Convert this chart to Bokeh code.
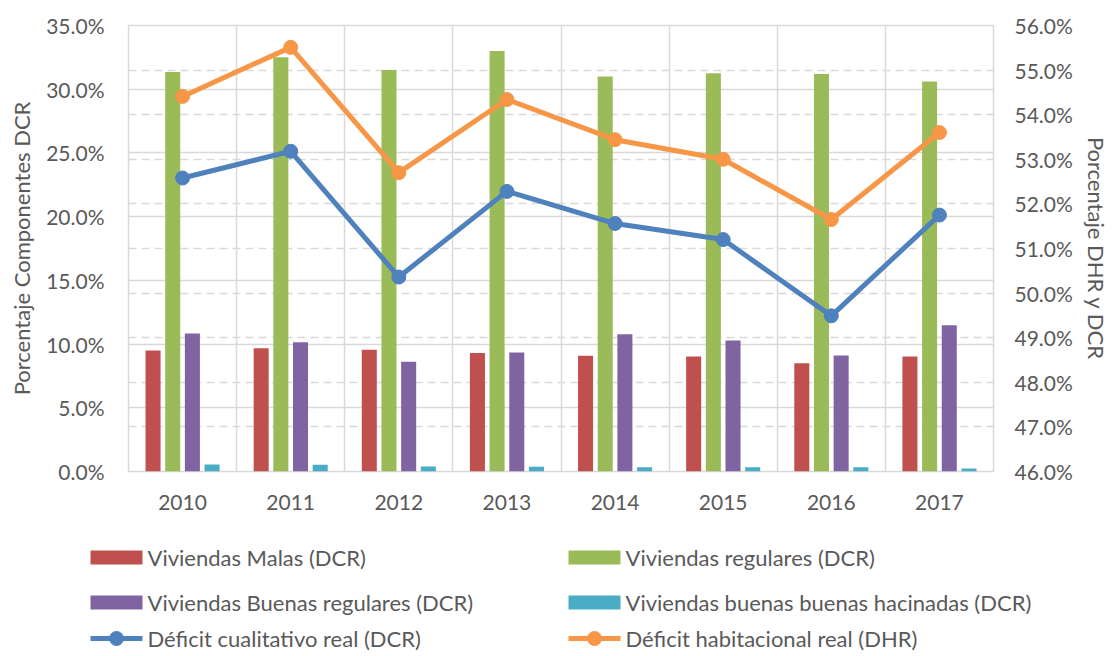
from bokeh.plotting import figure
from bokeh.models import Range1d, LinearAxis, FixedTicker, NumeralTickFormatter, Grid, ColumnDataSource
from bokeh.transform import dodge
from bokeh.layouts import column, row
from bokeh.embed import file_html
from bokeh.resources import INLINE
from bokeh.core.properties import value

# ---------------- data ----------------
years = [2010, 2011, 2012, 2013, 2014, 2015, 2016, 2017]
viviendas_malas = [0.0950, 0.0968, 0.0955, 0.0929, 0.0908, 0.0903, 0.0850, 0.0903]
viviendas_regulares = [0.3135, 0.3250, 0.3150, 0.3300, 0.3100, 0.3125, 0.3120, 0.3060]
viviendas_buenas_regulares = [0.1083, 0.1015, 0.0861, 0.0934, 0.1078, 0.1028, 0.0910, 0.1148]
viviendas_hacinadas = [0.0055, 0.0052, 0.0039, 0.0037, 0.0034, 0.0034, 0.0034, 0.0024]
deficit_cualitativo = [0.5258, 0.5318, 0.5036, 0.5228, 0.5156, 0.5120, 0.4949, 0.5175]
deficit_habitacional = [0.5441, 0.5551, 0.5270, 0.5434, 0.5344, 0.5300, 0.5165, 0.5360]

left_ticks = [0.0, 0.05, 0.10, 0.15, 0.20, 0.25, 0.30, 0.35]
right_ticks = [0.46, 0.47, 0.48, 0.49, 0.50, 0.51, 0.52, 0.53, 0.54, 0.55, 0.56]

bar_labels = ["Viviendas Malas (DCR)", "Viviendas regulares (DCR)",
              "Viviendas Buenas regulares (DCR)", "Viviendas buenas buenas  hacinadas (DCR)"]
line_labels = ["Déficit cualitativo real (DCR)", "Déficit habitacional real (DHR)"]

# ---------------- styles ----------------
FONT = "Lato"
TXT = "#595959"
GRID = "#D9D9D9"
C_RED, C_GREEN, C_PURPLE, C_CYAN = "#C0504D", "#9BBB59", "#8064A2", "#4BACC6"
C_BLUE, C_ORANGE = "#4F81BD", "#F79646"

W = 1112
H_MAIN = 522
H_LEG = 132

src = ColumnDataSource(dict(year=years, malas=viviendas_malas, reg=viviendas_regulares,
                            breg=viviendas_buenas_regulares, hac=viviendas_hacinadas,
                            dcr=deficit_cualitativo, dhr=deficit_habitacional))

p = figure(width=W, height=H_MAIN, x_range=Range1d(2009.5, 2017.5), y_range=Range1d(0, 0.35),
           output_backend="svg", toolbar_location=None,
           min_border_left=128, min_border_right=W - 994, min_border_top=25, min_border_bottom=51)
p.extra_y_ranges = {"right": Range1d(0.46, 0.56)}
p.outline_line_color = GRID
p.outline_line_width = 1.5
p.background_fill_color = "white"
p.border_fill_color = "white"

# grids
p.xgrid.ticker = FixedTicker(ticks=[y - 0.5 for y in years] + [years[-1] + 0.5])
p.ygrid.ticker = FixedTicker(ticks=left_ticks)
for g in (p.xgrid, p.ygrid):
    g.grid_line_color = GRID
    g.grid_line_width = 1.5
dgrid = Grid(dimension=1, ticker=FixedTicker(ticks=right_ticks), y_range_name="right",
             grid_line_color=GRID, grid_line_width=1.5, grid_line_dash="8 5")
p.add_layout(dgrid)

# axes
p.xaxis.ticker = FixedTicker(ticks=years)
p.yaxis.ticker = FixedTicker(ticks=left_ticks)
p.yaxis.formatter = NumeralTickFormatter(format="0.0%")
p.yaxis.axis_label = "Porcentaje Componentes DCR"
p.yaxis.major_label_standoff = 24
p.yaxis.axis_label_standoff = 8
p.xaxis.major_label_standoff = 23

raxis = LinearAxis(y_range_name="right", ticker=FixedTicker(ticks=right_ticks),
                   formatter=NumeralTickFormatter(format="0.0%"),
                   axis_label="Porcentaje DHR y DCR")
raxis.major_label_standoff = 21
raxis.axis_label_standoff = 7
p.add_layout(raxis, "right")

for ax in (p.xaxis[0], p.yaxis[0], raxis):
    ax.axis_line_color = None
    ax.major_tick_line_color = None
    ax.minor_tick_line_color = None
    ax.major_tick_out = 0
    ax.major_tick_in = 0
    ax.major_label_text_font = FONT
    ax.major_label_text_font_size = "21px"
    ax.major_label_text_color = TXT
    ax.axis_label_text_font = FONT
    ax.axis_label_text_font_size = "22px"
    ax.axis_label_text_font_style = "normal"
    ax.axis_label_text_color = TXT

# bars
bw = 0.139
step = 0.182
for col, off, color in (("malas", -1.5 * step, C_RED), ("reg", -0.5 * step, C_GREEN),
                        ("breg", 0.5 * step, C_PURPLE), ("hac", 1.5 * step, C_CYAN)):
    p.vbar(x=dodge("year", off, range=p.x_range), top=col, bottom=0, width=bw, source=src,
           fill_color=color, line_color=None)

# lines (secondary axis)
for col, color in (("dcr", C_BLUE), ("dhr", C_ORANGE)):
    p.line("year", col, source=src, y_range_name="right", line_color=color, line_width=5,
           line_join="round")
    p.scatter("year", col, source=src, y_range_name="right", size=14, fill_color=color,
              line_color=color)

# ---------------- legend strip (pixel coordinates, no axes) ----------------
lg = figure(width=W, height=H_LEG, x_range=Range1d(0, W), y_range=Range1d(H_LEG, 0),
            output_backend="svg", toolbar_location=None, min_border=0,
            min_border_left=0, min_border_right=0, min_border_top=0, min_border_bottom=0,
            x_axis_location=None, y_axis_location=None)
lg.grid.visible = False
lg.outline_line_color = None
lg.background_fill_color = "white"
lg.border_fill_color = "white"

col_x = [90, 568]
row_y = [35, 80, 116]
sw_w = 52
sw_h = 14
bar_colors = [C_RED, C_GREEN, C_PURPLE, C_CYAN]
for i, (lab, color) in enumerate(zip(bar_labels, bar_colors)):
    x0 = col_x[i % 2]
    y0 = row_y[i // 2]
    lg.quad(left=[x0], right=[x0 + sw_w], top=[y0 - sw_h / 2], bottom=[y0 + sw_h / 2],
            fill_color=color, line_color=None)
    lg.text(x=[x0 + sw_w + 5], y=[y0], text=[lab], text_font=value(FONT), text_font_size="22px",
            text_color=TXT, text_baseline="middle", text_align="left")
for i, (lab, color) in enumerate(zip(line_labels, [C_BLUE, C_ORANGE])):
    x0 = col_x[i]
    y0 = row_y[2]
    lg.line(x=[x0, x0 + sw_w], y=[y0, y0], line_color=color, line_width=5)
    lg.scatter(x=[x0 + sw_w / 2], y=[y0], size=14, fill_color=color, line_color=color)
    lg.text(x=[x0 + sw_w + 5], y=[y0], text=[lab], text_font=value(FONT), text_font_size="22px",
            text_color=TXT, text_baseline="middle", text_align="left")

layout = column(p, row(lg), spacing=0)
open("out.html", "w").write(file_html(layout, INLINE))
